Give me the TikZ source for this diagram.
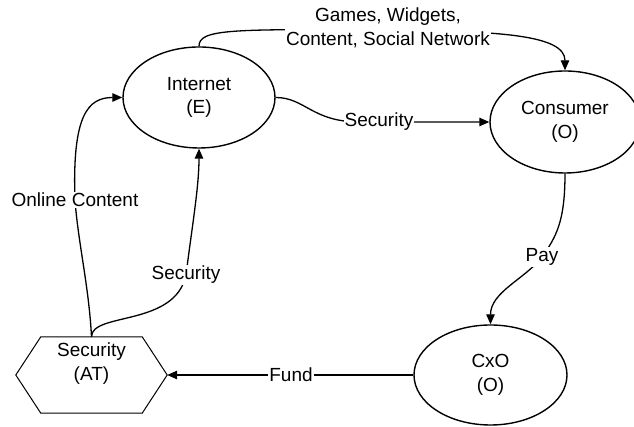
\documentclass[tikz,border=0pt]{standalone}
\usepackage{fontspec}
\setmainfont{Liberation Sans}
\usetikzlibrary{shapes.geometric,arrows.meta}

\tikzset{
  actor/.style={draw, line width=1.4pt, ellipse, inner sep=0pt,
    minimum width=152pt, minimum height=101pt, align=center},
  hexbox/.style={draw=none, minimum width=151pt, minimum height=76pt, inner sep=0pt},
  hexline/.style={line width=1pt, line join=miter},
  conn/.style={line width=1.3pt, -{Triangle[length=10pt,width=8.5pt]}},
  plain/.style={line width=1.3pt},
  lbl/.style={fill=white, inner sep=1pt, align=center},
}

\begin{document}
\begin{tikzpicture}[x=1pt, y=1pt, font=\fontsize{19}{23.5}\selectfont]
\useasboundingbox (0,0) rectangle (634,427);
\clip (0,0) rectangle (634,427);
\fill[white] (0,0) rectangle (634,427);

% actors
\node[actor] (inet) at (199,329.5) {Internet\\(E)};
\node[actor, minimum width=150pt, minimum height=102pt] (cons) at (565,305) {Consumer\\(O)};
\node[actor, minimum width=153pt, minimum height=100pt] (cxo) at (490.5,52) {CxO\\(O)};

% hexagonal security block
\node[hexbox] (sec) at (91.5,52) {};
\draw[hexline] (sec.west) -- ([xshift=25pt]sec.north west) -- ([xshift=-25pt]sec.north east)
  -- (sec.east) -- ([xshift=-25pt]sec.south east) -- ([xshift=25pt]sec.south west) -- cycle;
\node[align=center] (sectext) at (91.5,63.5) {Security\\(AT)};

% waypoints through the labels
\coordinate (gwp) at (388,397);
\coordinate (s1p) at (360,305);
\coordinate (payp) at (542,170);
\coordinate (ocp) at (75,227);
\coordinate (s2p) at (186,152);

% connectors
\draw[conn] (inet.north) .. controls (199,398) and (230,398) .. (gwp)
  .. controls (500,396) and (565,392) .. (cons.north);
\draw[conn] (inet.east) .. controls (305,329.5) and (312,305) .. (s1p) -- (cons.west);
\draw[conn] (cons.south) .. controls (565,205) and (556,190) .. (payp)
  .. controls (525,148) and (490.5,135) .. (cxo.north);
\draw[conn] (cxo.west) -- (sec.east);
\draw[conn] (sec.north) .. controls (89,140) and (78,185) .. (ocp)
  .. controls (72,312) and (88,329.5) .. (inet.west);
\draw[conn] (sec.north) .. controls (91.5,115) and (175,100) .. (s2p)
  .. controls (192,200) and (199,240) .. (inet.south);

% connector labels
\node[lbl] (gw) at (388,399) {Games, Widgets,\\Content, Social Network};
\node[lbl] (s1) at (379,305) {Security};
\node[lbl] (pay) at (542,170) {Pay};
\node[lbl] (fund) at (291,52) {Fund};
\node[lbl] (oc) at (75,227) {Online Content};
\node[lbl] (s2) at (186,152) {Security};
\end{tikzpicture}
\end{document}
